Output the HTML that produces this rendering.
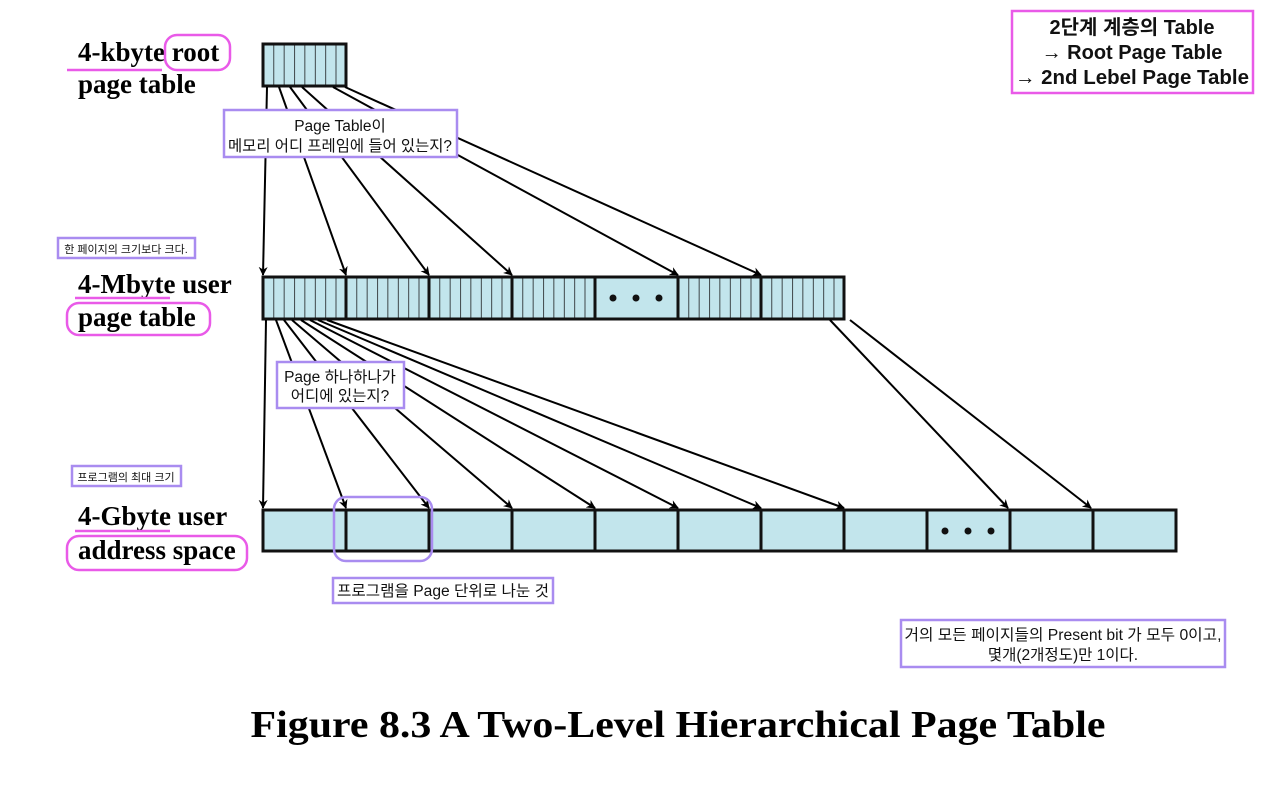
<!DOCTYPE html>
<html><head><meta charset="utf-8"><style>
body{margin:0;background:#fff;width:1280px;height:788px;overflow:hidden}
svg{display:block}
.lab{font-family:"Liberation Serif",serif;font-weight:bold;font-size:27px;fill:#000}
.k{font-family:"Liberation Sans","Noto Sans CJK KR",sans-serif;fill:#111}
</style></head><body>
<svg width="1280" height="788" viewBox="0 0 1280 788" xmlns="http://www.w3.org/2000/svg">
<defs>
<pattern id="cells" x="263" y="0" width="10.375" height="10" patternUnits="userSpaceOnUse">
<rect width="10.375" height="10" fill="#c2e5ec"/>
<line x1="0" y1="0" x2="0" y2="10" stroke="#111" stroke-width="1.5"/>
</pattern>
<marker id="ah" viewBox="0 0 10 10" refX="9" refY="5" markerWidth="9" markerHeight="9" orient="auto" markerUnits="userSpaceOnUse">
<path d="M0,0 L10,5 L0,10 L3,5 z" fill="#000"/>
</marker>
</defs>

<rect x="263" y="44" width="83" height="42" fill="url(#cells)" stroke="#111" stroke-width="3"/>

<rect x="263" y="277" width="581" height="42" fill="url(#cells)" stroke="#111" stroke-width="3"/>
<rect x="595" y="277" width="83" height="42" fill="#c2e5ec" stroke="#111" stroke-width="3"/>
<g stroke="#111" stroke-width="3">
<line x1="346" y1="277" x2="346" y2="319"/><line x1="429" y1="277" x2="429" y2="319"/>
<line x1="512" y1="277" x2="512" y2="319"/><line x1="761" y1="277" x2="761" y2="319"/>
</g>
<g fill="#111"><circle cx="613" cy="298" r="3.5"/><circle cx="636" cy="298" r="3.5"/><circle cx="659" cy="298" r="3.5"/></g>

<rect x="263" y="510" width="913" height="41" fill="#c2e5ec" stroke="#111" stroke-width="3"/>
<g stroke="#111" stroke-width="3">
<line x1="346" y1="510" x2="346" y2="551"/><line x1="429" y1="510" x2="429" y2="551"/>
<line x1="512" y1="510" x2="512" y2="551"/><line x1="595" y1="510" x2="595" y2="551"/>
<line x1="678" y1="510" x2="678" y2="551"/><line x1="761" y1="510" x2="761" y2="551"/>
<line x1="844" y1="510" x2="844" y2="551"/><line x1="927" y1="510" x2="927" y2="551"/>
<line x1="1010" y1="510" x2="1010" y2="551"/><line x1="1093" y1="510" x2="1093" y2="551"/>
</g>
<g fill="#111"><circle cx="945" cy="531" r="3.5"/><circle cx="968" cy="531" r="3.5"/><circle cx="991" cy="531" r="3.5"/></g>

<g stroke="#000" stroke-width="2" marker-end="url(#ah)" fill="none">
<line x1="267" y1="87" x2="263" y2="275"/>
<line x1="279" y1="87" x2="346" y2="275"/>
<line x1="290" y1="87" x2="429" y2="275"/>
<line x1="302" y1="87" x2="512" y2="275"/>
<line x1="333" y1="87" x2="678" y2="275"/>
<line x1="345" y1="87" x2="761" y2="275"/>
<line x1="266" y1="320" x2="263" y2="508"/>
<line x1="276" y1="320" x2="346" y2="508"/>
<line x1="284" y1="320" x2="429" y2="508"/>
<line x1="292" y1="320" x2="512" y2="508"/>
<line x1="301" y1="320" x2="595" y2="508"/>
<line x1="310" y1="320" x2="678" y2="508"/>
<line x1="318" y1="320" x2="761" y2="508"/>
<line x1="327" y1="320" x2="844" y2="508"/>
<line x1="830" y1="320" x2="1008" y2="508"/>
<line x1="850" y1="320" x2="1091" y2="508"/>
</g>

<text class="lab" x="78" y="61">4-kbyte root</text>
<text class="lab" x="78" y="93">page table</text>
<text class="lab" x="78" y="293">4-Mbyte user</text>
<text class="lab" x="78" y="326">page table</text>
<text class="lab" x="78" y="525">4-Gbyte user</text>
<text class="lab" x="78" y="559">address space</text>

<g stroke="#e95ae8" stroke-width="2.5" fill="none">
<line x1="67" y1="70" x2="162" y2="70"/>
<rect x="165" y="35" width="65" height="35" rx="12"/>
<line x1="75" y1="298" x2="170" y2="298"/>
<rect x="67" y="303" width="143" height="32" rx="12"/>
<line x1="75" y1="531" x2="170" y2="531"/>
<rect x="67" y="536" width="180" height="34" rx="12"/>
<rect x="1012" y="11" width="241" height="82"/>
</g>
<g class="k" font-weight="bold" font-size="20" text-anchor="middle">
<text x="1132" y="34">2단계 계층의 Table</text>
<text x="1132" y="59">→ Root Page Table</text>
<text x="1132" y="84" textLength="234" lengthAdjust="spacingAndGlyphs">→ 2nd Lebel Page Table</text>
</g>

<g stroke="#a98cf0" stroke-width="2.5" fill="#fff">
<rect x="224" y="110" width="233" height="47"/>
<rect x="58" y="238" width="137" height="20"/>
<rect x="277" y="362" width="127" height="46"/>
<rect x="72" y="466" width="109" height="20"/>
<rect x="333" y="578" width="220" height="25"/>
<rect x="901" y="620" width="324" height="47"/>
</g>
<rect x="334" y="497" width="98" height="64" rx="12" fill="none" stroke="#a98cf0" stroke-width="2.5"/>
<g class="k" text-anchor="middle" font-size="15.5">
<text x="340" y="131">Page Table이</text>
<text x="340" y="151" textLength="224" lengthAdjust="spacingAndGlyphs">메모리 어디 프레임에 들어 있는지?</text>
<text x="126" y="253" font-size="11">한 페이지의 크기보다 크다.</text>
<text x="340" y="382">Page 하나하나가</text>
<text x="340" y="401">어디에 있는지?</text>
<text x="126" y="481" font-size="11">프로그램의 최대 크기</text>
<text x="443" y="596" textLength="212" lengthAdjust="spacingAndGlyphs">프로그램을 Page 단위로 나눈 것</text>
<text x="1063" y="640" textLength="317" lengthAdjust="spacingAndGlyphs">거의 모든 페이지들의 Present bit 가 모두 0이고,</text>
<text x="1063" y="660">몇개(2개정도)만 1이다.</text>
</g>

<text x="678" y="737" text-anchor="middle" font-family="'Liberation Serif',serif" font-weight="bold" font-size="38" textLength="855" lengthAdjust="spacingAndGlyphs">Figure 8.3  A Two-Level Hierarchical Page Table</text>
</svg>
</body></html>
